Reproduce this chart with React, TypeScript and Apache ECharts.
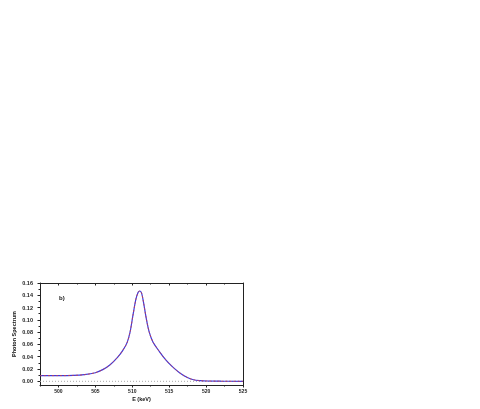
import React, { useEffect, useRef } from "react";
import * as echarts from "echarts";

const energies = [497.5, 500, 502, 503.5, 505, 506, 507, 508, 508.7, 509.3, 509.7, 510.1, 510.5, 510.8, 511.0, 511.25, 511.5, 511.9, 512.3, 512.8, 513.7, 514.6, 515.5, 516.4, 517.4, 518.3, 519.2, 520.1, 522, 525];
const spectrum = [0.0093, 0.0093, 0.0096, 0.0108, 0.014, 0.019, 0.027, 0.039, 0.05, 0.063, 0.08, 0.108, 0.134, 0.145, 0.147, 0.144, 0.13, 0.102, 0.08, 0.064, 0.048, 0.034, 0.023, 0.014, 0.0065, 0.0025, 0.0011, 0.0005, 0.0002, 0];
const xMajorTicks = [500, 505, 510, 515, 520, 525];
const xMinorTicks = [497.5, 502.5, 507.5, 512.5, 517.5, 522.5];
const yMajorTicks = [0, 0.02, 0.04, 0.06, 0.08, 0.1, 0.12, 0.14, 0.16];
const yMinorTicks = [0.01, 0.03, 0.05, 0.07, 0.09, 0.11, 0.13, 0.15];
const baseline = [[497.5, 0], [525, 0]];

const FONT = "Liberation Sans";
const AX = "#222";

export default function App() {
  const ref = useRef<HTMLDivElement>(null);
  useEffect(() => {
    if (!ref.current) return;
    const chart = echarts.init(ref.current, null, { renderer: "svg" });
    const data = energies.map((e, i) => [e, spectrum[i]]);
    const xBase = { type: "value", min: 497.5, max: 525, gridIndex: 0, splitLine: { show: false } };
    const yBase = { type: "value", min: -0.006, max: 0.16, gridIndex: 0, splitLine: { show: false } };
    chart.setOption({
      animation: false,
      grid: { left: 40, right: 237, top: 283, bottom: 24, containLabel: false },
      xAxis: [
        {
          ...xBase,
          position: "bottom",
          name: "E (keV)",
          nameLocation: "middle",
          nameGap: 11,
          nameTextStyle: { fontFamily: FONT, fontWeight: "bold", fontSize: 5.5, color: "#111" },
          axisLine: { show: true, onZero: false, lineStyle: { color: AX, width: 1 } },
          axisTick: { show: true, inside: false, length: 2.5, customValues: xMajorTicks, lineStyle: { color: AX } },
          axisLabel: { show: true, customValues: xMajorTicks, fontFamily: FONT, fontWeight: "bold", fontSize: 5, color: "#222", margin: 3, formatter: (v: number) => String(Math.round(v)) },
        },
        {
          ...xBase,
          position: "bottom",
          axisLine: { show: false, onZero: false },
          axisTick: { show: true, inside: false, length: 1.5, customValues: xMinorTicks, lineStyle: { color: AX } },
          axisLabel: { show: false },
        },
        {
          ...xBase,
          position: "top",
          axisLine: { show: true, onZero: false, lineStyle: { color: AX, width: 1 } },
          axisTick: { show: true, inside: true, length: 2.5, customValues: xMajorTicks, lineStyle: { color: AX } },
          axisLabel: { show: false },
        },
        {
          ...xBase,
          position: "top",
          axisLine: { show: false, onZero: false },
          axisTick: { show: true, inside: true, length: 1.5, customValues: xMinorTicks, lineStyle: { color: AX } },
          axisLabel: { show: false },
        },
      ],
      yAxis: [
        {
          ...yBase,
          position: "left",
          name: "Photon Spectrum",
          nameLocation: "middle",
          nameGap: 23,
          nameTextStyle: { fontFamily: FONT, fontWeight: "bold", fontSize: 5.5, color: "#111" },
          axisLine: { show: true, onZero: false, lineStyle: { color: AX, width: 1 } },
          axisTick: { show: true, inside: false, length: 2.5, customValues: yMajorTicks, lineStyle: { color: AX } },
          axisLabel: { show: true, customValues: yMajorTicks, fontFamily: FONT, fontWeight: "bold", fontSize: 5.5, color: "#222", margin: 7, formatter: (v: number) => v.toFixed(2) },
        },
        {
          ...yBase,
          position: "left",
          axisLine: { show: false, onZero: false },
          axisTick: { show: true, inside: false, length: 1.5, customValues: yMinorTicks, lineStyle: { color: AX } },
          axisLabel: { show: false },
        },
        {
          ...yBase,
          position: "right",
          axisLine: { show: true, onZero: false, lineStyle: { color: AX, width: 1 } },
          axisTick: { show: false },
          axisLabel: { show: false },
        },
      ],
      graphic: [
        { type: "text", left: 59, top: 295, style: { text: "b)", fontFamily: FONT, fontWeight: "bold", fontSize: 6, fill: "#111" } },
      ],
      series: [
        {
          type: "line",
          name: "baseline",
          xAxisIndex: 0,
          yAxisIndex: 0,
          data: baseline,
          showSymbol: false,
          lineStyle: { color: "#aaa", width: 1, type: [1, 2] },
        },
        {
          type: "line",
          name: "fit",
          xAxisIndex: 0,
          yAxisIndex: 0,
          data,
          smooth: 0.3,
          showSymbol: false,
          lineStyle: { color: "#3a3ae0", width: 1.2 },
        },
        {
          type: "line",
          name: "data",
          xAxisIndex: 0,
          yAxisIndex: 0,
          data,
          smooth: 0.3,
          showSymbol: false,
          lineStyle: { color: "#d04040", width: 0.8, type: [2, 2] },
        },
      ],
    });
    return () => chart.dispose();
  }, []);
  return <div ref={ref} style={{ position: "fixed", left: 0, top: 0, width: 480, height: 409 }} />;
}
